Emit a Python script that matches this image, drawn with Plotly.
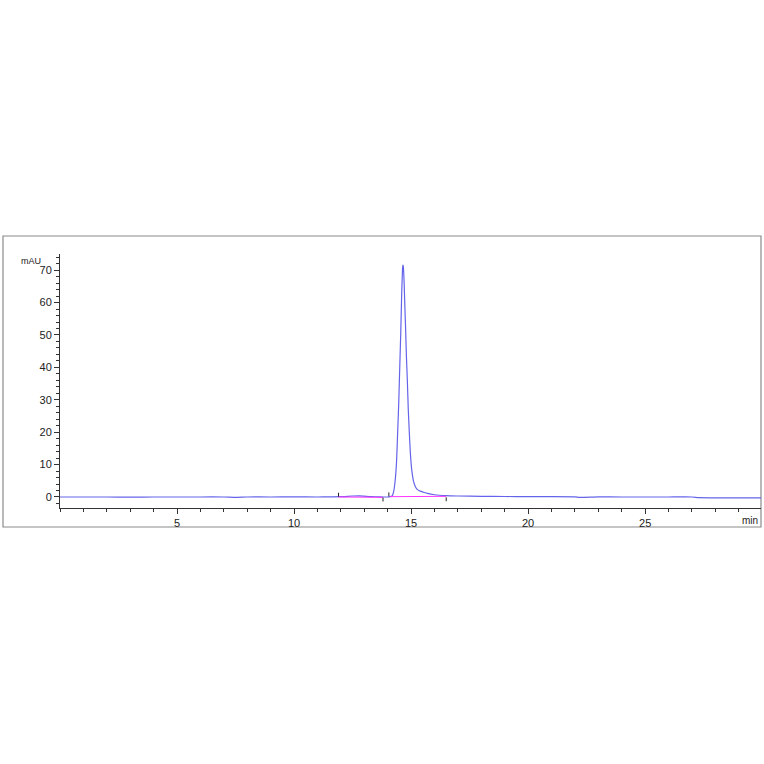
import plotly.graph_objects as go

# Chromatogram signal (time in min, absorbance in mAU)
time_min = [0, 1, 2, 3, 4, 5, 6, 7, 7.5, 8, 9, 10, 11, 11.5, 12, 12.5, 12.8, 13.0, 13.3, 13.6,
            13.8, 14.0, 14.1, 14.19, 14.25, 14.32, 14.38, 14.43, 14.47, 14.50, 14.53, 14.56,
            14.58, 14.60, 14.62, 14.64, 14.655, 14.67, 14.69, 14.71, 14.74, 14.77, 14.80,
            14.84, 14.88, 14.92, 14.97, 15.03, 15.10, 15.17, 15.24, 15.35, 15.52, 15.70,
            16.0, 16.5, 17, 18, 19, 20, 21, 22, 22.2, 23, 24, 25, 26, 27, 27.3, 28, 29, 30]
signal_mau = [0.0, 0.0, 0.0, -0.05, 0.0, 0.0, 0.0, 0.0, -0.1, 0.0, 0.0, 0.05, 0.0, 0.05, 0.1,
              0.3, 0.35, 0.25, 0.1, 0.05, 0.0, 0.0, 0.1, 0.3, 1.5, 5.1, 11.0, 20.6, 28.5,
              36.0, 43.5, 51.0, 57.0, 63.0, 67.5, 71.0, 71.6, 71.0, 68.5, 64.4, 57.5, 51.0,
              43.5, 36.0, 27.0, 20.6, 13.5, 8.2, 5.0, 3.4, 2.5, 1.9, 1.5, 1.1, 0.7, 0.4,
              0.3, 0.2, 0.15, 0.1, 0.1, 0.05, -0.1, 0.05, 0.0, 0.0, 0.0, 0.0, -0.2, -0.25,
              -0.25, -0.3]

# Integration baselines (start, end)
base_t0 = [11.9, 14.1]
base_t1 = [13.8, 16.5]
base_v0 = [0.0, 0.1]
base_v1 = [-0.1, 0.2]

# Integration event markers: time, base value, direction (+1 up, -1 down)
event_t = [11.9, 13.8, 14.05, 16.5]
event_v = [0.1, -0.2, 0.2, -0.1]
event_dir = [1, -1, 1, -1]

x_tickvals = [5, 10, 15, 20, 25]
y_tickvals = [0, 10, 20, 30, 40, 50, 60, 70]

fig = go.Figure()

fig.add_trace(go.Scatter(x=time_min, y=signal_mau, mode="lines",
                         line=dict(color="#6464ea", width=1.2, shape="spline", smoothing=0.5),
                         hoverinfo="skip"))

bx, by = [], []
for a, b, c, d in zip(base_t0, base_t1, base_v0, base_v1):
    bx += [a, b, None]
    by += [c, d, None]
fig.add_trace(go.Scatter(x=bx, y=by, mode="lines",
                         line=dict(color="#ff33ff", width=1), hoverinfo="skip"))

ex, ey = [], []
for t, v, s in zip(event_t, event_v, event_dir):
    ex += [t, t, None]
    ey += [v, v + s * 1.2, None]
fig.add_trace(go.Scatter(x=ex, y=ey, mode="lines",
                         line=dict(color="#222222", width=1), hoverinfo="skip"))

axis_font = dict(family="Liberation Sans, Arial, sans-serif", size=11, color="#222222")

fig.update_layout(
    width=764, height=764,
    margin=dict(l=60, r=3, t=254, b=256),
    paper_bgcolor="white", plot_bgcolor="white",
    showlegend=False,
    xaxis=dict(range=[0, 29.95], tickvals=x_tickvals, ticktext=[str(v) for v in x_tickvals],
               ticks="outside", ticklen=5, tickcolor="#333333", tickwidth=1,
               minor=dict(dtick=1, tick0=0, ticks="outside", ticklen=3, tickcolor="#333333"),
               showline=True, linecolor="#333333", linewidth=1, showgrid=False,
               zeroline=False, tickfont=axis_font),
    yaxis=dict(range=[-3.4, 75], tickvals=y_tickvals, ticktext=[str(v) for v in y_tickvals],
               ticks="outside", ticklen=5, tickcolor="#333333", tickwidth=1,
               minor=dict(dtick=2, tick0=0, ticks="outside", ticklen=3, tickcolor="#333333"),
               showline=True, linecolor="#333333", linewidth=1, showgrid=False,
               zeroline=False, tickfont=axis_font),
)

# outer frame
fig.add_shape(type="rect", xref="paper", yref="paper",
              x0=(3 - 60) / 701, x1=1.0, y0=-19 / 254, y1=1 + 18 / 254,
              line=dict(color="#8a8a8a", width=1.2), fillcolor="rgba(0,0,0,0)", layer="below")

fig.add_annotation(text="mAU", xref="paper", yref="paper", x=-0.024, y=0.972,
                   xanchor="right", yanchor="middle", showarrow=False,
                   font=dict(family="Liberation Sans, Arial, sans-serif", size=9, color="#222222"))
fig.add_annotation(text="min", xref="paper", yref="paper", x=0.998, y=-0.02,
                   xanchor="right", yanchor="top", showarrow=False,
                   font=dict(family="Liberation Sans, Arial, sans-serif", size=10, color="#222222"))

fig.write_html("out.html", config={"displayModeBar": False},
               post_script="document.body.style.margin='0';document.body.style.overflow='hidden';")
